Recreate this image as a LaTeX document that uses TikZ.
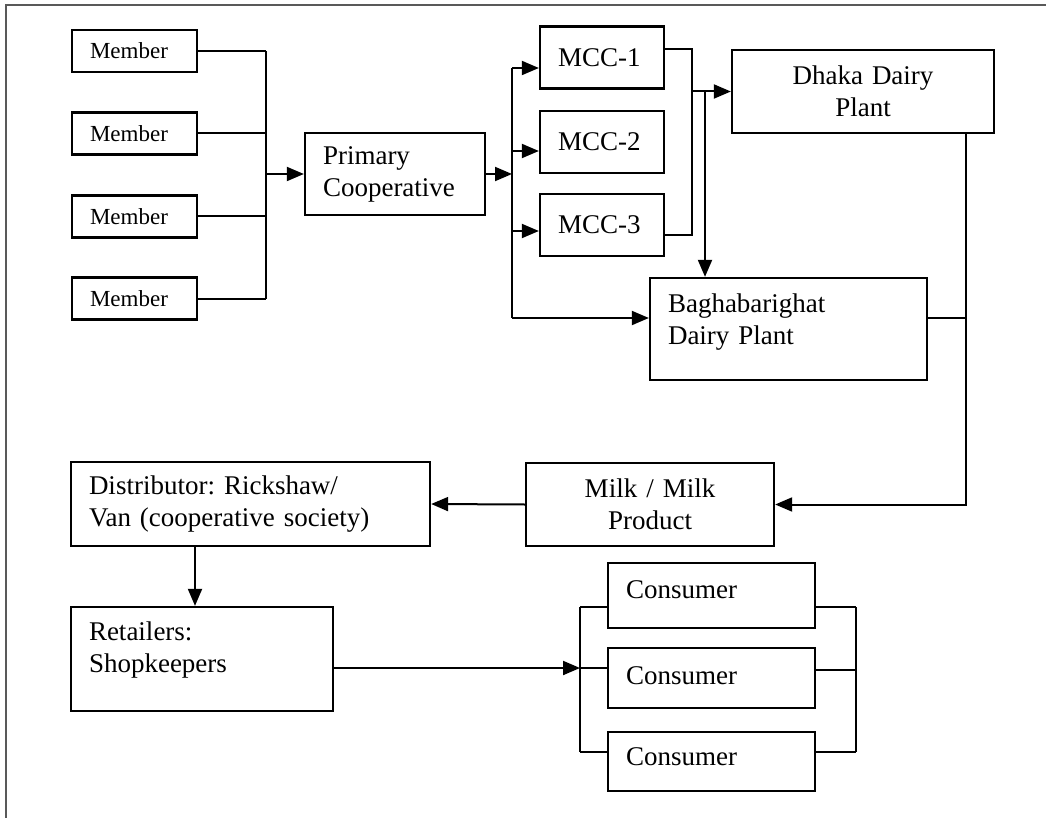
\documentclass[tikz,border=0pt]{standalone}
\usepackage{fontspec}
\setmainfont{Liberation Serif}
\usetikzlibrary{arrows.meta}
\frenchspacing
\begin{document}
\begin{tikzpicture}[x=1pt, y=-1pt,
    box/.style={draw, line width=2.3pt, inner xsep=18pt, inner ysep=0pt, align=left,
        font=\fontsize{27}{32}\selectfont},
    smallbox/.style={box, font=\fontsize{23}{27}\selectfont},
    flow/.style={line width=2pt},
    >={Triangle[length=17pt,width=14pt]}]
    \useasboundingbox (0,0) rectangle (1046,818);
    \draw[line width=1.4pt, black!65] (6,818) -- (6,5) -- (1046,5);

    % boxes
    \foreach \i/\y in {1/51, 2/133.5, 3/216.5, 4/298.5}
    {
        \node[smallbox, minimum width=125pt, minimum height=42pt, text width=89pt] (m\i) at (134.5,\y) {Member};
    }
    \node[box, minimum width=180pt, minimum height=82pt, text width=144pt] (prim) at (395,174) {Primary\\Cooperative};
    \foreach \i/\y in {1/57.5, 2/142, 3/225}
    {
        \node[box, minimum width=124pt, minimum height=62pt, text width=88pt] (mcc\i) at (602,\y) {MCC-\i};
    }
    \node[box, align=center, minimum width=262pt, minimum height=83pt, text width=226pt] (dhaka) at (863,91.5) {Dhaka Dairy\\Plant};
    \node[box, minimum width=277pt, minimum height=102pt, text width=241pt] (bagha) at (788.5,329) {Baghabarighat\\Dairy Plant\rule[-20pt]{0pt}{0pt}};
    \node[box, align=center, minimum width=248pt, minimum height=83pt, text width=212pt] (milk) at (650,504.5) {Milk / Milk\\Product};
    \node[box, minimum width=359pt, minimum height=84pt, text width=323pt] (dist) at (250.5,504) {Distributor: Rickshaw/\\Van (cooperative society)};
    \node[box, minimum width=262pt, minimum height=104pt, text width=226pt] (ret) at (202,659) {Retailers:\\Shopkeepers\rule[-23pt]{0pt}{0pt}};
    \foreach \n/\y/\h/\v in {c1/595.5/65/12, c2/678/60/4, c3/761.5/59/10}
    {
        \node[box, minimum width=207pt, minimum height=\h pt, text width=171pt] (\n) at (711.5,\y) {Consumer\rule[-\v pt]{0pt}{0pt}};
    }

    % members to primary cooperative
    \coordinate (mbus) at (266,174);
    \foreach \i in {1,...,4}
        \draw[flow] (m\i.east) -- (m\i.east -| mbus);
    \draw[flow] (m1.east -| mbus) -- (m4.east -| mbus);
    \draw[flow,->] (mbus) -- (prim.west);

    % primary cooperative to MCCs and Baghabarighat
    \coordinate (pbus) at (512,174);
    \draw[flow,->] (prim.east) -- (pbus);
    \foreach \n/\dy in {mcc1/-10.5, mcc2/-9, mcc3/-6, bagha/11}
    {
        \coordinate (in\n) at ([yshift=\dy pt]\n.west);
        \draw[flow,->] (in\n -| pbus) -- (in\n);
    }
    \draw[flow] (inmcc1 -| pbus) -- (inbagha -| pbus);

    % MCCs to the plants
    \coordinate (mccbus) at (692,0);
    \coordinate (dropb) at (705,0);
    \coordinate (outmcc1) at ([yshift=8.5pt]mcc1.east);
    \coordinate (outmcc3) at ([yshift=-10pt]mcc3.east);
    \draw[flow] (outmcc1) -| (outmcc3 -| mccbus) -- (outmcc3);
    \draw[flow,->] (dhaka.west -| mccbus) -- (dhaka.west);
    \draw[flow,->] (dhaka.west -| dropb) -- (bagha.north -| dropb);

    % plants to milk product
    \coordinate (rbus) at (966,0);
    \draw[flow,->] (dhaka.south -| rbus) |- (milk.east);
    \draw[flow] (inbagha -| bagha.east) -- (inbagha -| rbus);

    % distribution
    \draw[flow,->] (milk.west) -- (dist.east);
    \coordinate (dropd) at (195,0);
    \draw[flow,->] (dist.south -| dropd) -- (ret.north -| dropd);

    % retailers to consumers
    \coordinate (cbusl) at (580,0);
    \coordinate (cbusr) at (856,0);
    \coordinate (outret) at ([yshift=-9pt]ret.east);
    \draw[flow,->] (outret) -- (outret -| cbusl);
    \foreach \n/\dl/\dr in {c1/-11.5/-11.5, c2/10/8, c3/9.5/9.5}
    {
        \coordinate (l\n) at ([yshift=\dl pt]\n.west);
        \coordinate (r\n) at ([yshift=\dr pt]\n.east);
        \draw[flow] (l\n -| cbusl) -- (l\n);
        \draw[flow] (r\n) -- (r\n -| cbusr);
    }
    \draw[flow] (lc1 -| cbusl) -- (lc3 -| cbusl);
    \draw[flow] (rc1 -| cbusr) -- (rc3 -| cbusr);
\end{tikzpicture}
\end{document}
